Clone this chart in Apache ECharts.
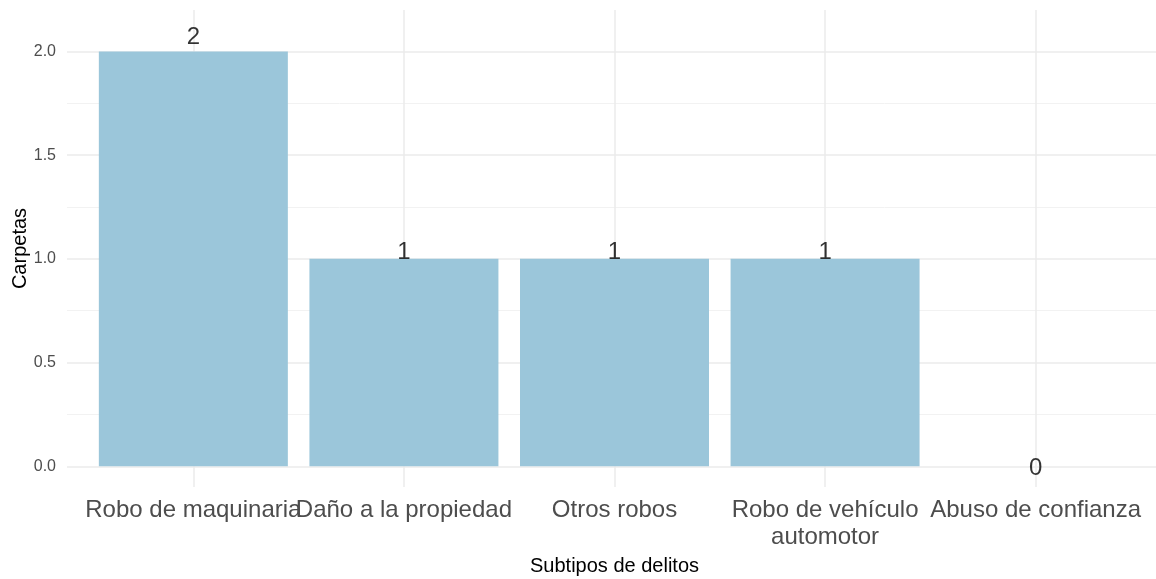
<!DOCTYPE html>
<html>
<head>
<meta charset="utf-8">
<script src="https://cdn.jsdelivr.net/npm/echarts@6/dist/echarts.min.js"></script>
<style>
  html, body { margin: 0; padding: 0; background: #fff; }
  #chart { width: 1156px; height: 579px; }
</style>
</head>
<body>
<div id="chart"></div>
<script>
const categories = ['Robo de maquinaria', 'Daño a la propiedad', 'Otros robos', 'Robo de vehículo automotor', 'Abuso de confianza']
const carpetas = [2, 1, 1, 1, 0]
const yTicks = [0, 0.5, 1, 1.5, 2]
const yMinor = [0.25, 0.75, 1.25, 1.75]

const FONT = '"Liberation Sans", Arial, sans-serif'

// wrap long labels like str_wrap(width = 20)
function wrap(s, width) {
  const words = s.split(' ')
  const lines = []
  let cur = ''
  words.forEach(w => {
    if (cur && (cur + ' ' + w).length > width) {
      lines.push(cur)
      cur = w
    } else {
      cur = cur ? cur + ' ' + w : w
    }
  })
  if (cur) lines.push(cur)
  return lines.join('\n')
}

const idx = categories.map((c, i) => i)
const barData = carpetas.map((v, i) => [i, v])
// text labels sit just above the bar tops
const labelData = carpetas.map((v, i) => [i, v * 1.04])

const major = { color: '#ebebeb', width: 1.5, type: 'solid' }
const minor = { color: '#f2f2f2', width: 1, type: 'solid' }
const gridLines = []
yTicks.forEach(v => gridLines.push({ yAxis: v, lineStyle: major }))
yMinor.forEach(v => gridLines.push({ yAxis: v, lineStyle: minor }))
idx.forEach(i => gridLines.push({ xAxis: i, lineStyle: major }))

// the category labels touch each other, so split them over two
// stacked x axes to keep echarts from hiding one of them
function catAxis(values, extra) {
  return Object.assign({
    type: 'value',
    min: -0.6,
    max: 4.6,
    position: 'bottom',
    axisLine: { show: false },
    axisTick: { show: false },
    splitLine: { show: false },
    axisLabel: {
      customValues: values,
      hideOverlap: false,
      showMinLabel: true,
      showMaxLabel: true,
      formatter: v => wrap(categories[Math.round(v)], 20),
      color: '#4d4d4d',
      fontSize: 24,
      lineHeight: 27,
      margin: 10,
      fontFamily: FONT
    }
  }, extra)
}

const chart = echarts.init(document.getElementById('chart'))
chart.setOption({
  animation: false,
  backgroundColor: '#fff',
  textStyle: { fontFamily: FONT },
  grid: {
    left: 67,
    top: 10,
    width: 1095,
    height: 477,
    containLabel: false,
    outerBoundsMode: 'none'
  },
  xAxis: [
    catAxis(idx.filter(i => i % 2 === 0), {
      name: 'Subtipos de delitos',
      nameLocation: 'middle',
      nameGap: 69,
      nameMoveOverlap: false,
      nameTextStyle: { color: '#000', fontSize: 20, fontFamily: FONT }
    }),
    catAxis(idx.filter(i => i % 2 === 1), {})
  ],
  yAxis: {
    type: 'value',
    min: -0.1,
    max: 2.2,
    name: 'Carpetas',
    nameLocation: 'middle',
    nameGap: 37,
    nameMoveOverlap: false,
    nameTextStyle: { color: '#000', fontSize: 20, fontFamily: FONT },
    axisLine: { show: false },
    axisTick: { show: false },
    splitLine: { show: false },
    axisLabel: {
      customValues: yTicks,
      formatter: v => v.toFixed(1),
      color: '#4d4d4d',
      fontSize: 16,
      margin: 11,
      fontFamily: FONT
    }
  },
  series: [
    {
      name: 'grid',
      type: 'line',
      data: [],
      z: 0,
      silent: true,
      markLine: {
        silent: true,
        symbol: 'none',
        label: { show: false },
        data: gridLines
      }
    },
    {
      name: 'Carpetas',
      type: 'bar',
      z: 10,
      barWidth: 189,
      itemStyle: { color: '#9bc6da' },
      data: barData
    },
    {
      name: 'etiquetas',
      type: 'scatter',
      z: 11,
      symbolSize: 0,
      silent: true,
      label: {
        show: true,
        position: 'inside',
        offset: [0, 2],
        formatter: p => String(carpetas[p.dataIndex]),
        color: '#000',
        fontSize: 24,
        fontFamily: FONT
      },
      data: labelData
    }
  ]
})
</script>
</body>
</html>
